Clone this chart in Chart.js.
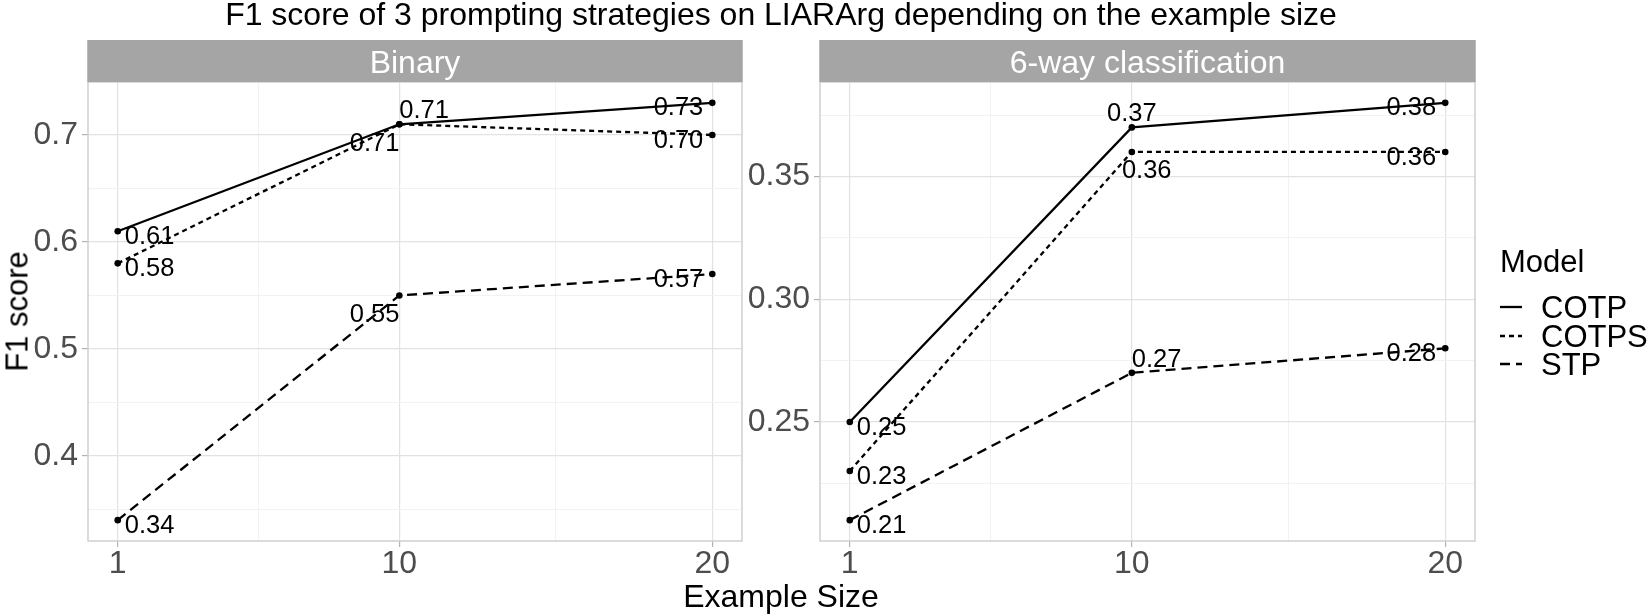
<!DOCTYPE html>
<html><head><meta charset="utf-8">
<script src="https://cdn.jsdelivr.net/npm/chart.js@4.4.1/dist/chart.umd.min.js"></script>
<style>
html,body{margin:0;padding:0;background:#fff;}
body{width:1650px;height:616px;position:relative;overflow:hidden;font-family:"Liberation Sans",Arial,sans-serif;}
canvas{position:absolute;top:0;}
.t{position:absolute;line-height:1;white-space:nowrap;color:#000;font-family:"Liberation Sans",Arial,sans-serif;}
.leg{position:absolute;}
</style></head><body>
<canvas id="c1" style="left:0;width:760px;height:616px"></canvas>
<canvas id="c2" style="left:740px;width:910px;height:616px"></canvas>
<div class="t" style="font-size:32px;top:-2px;left:0;width:1562px;text-align:center">F1 score of 3 prompting strategies on LIARArg depending on the example size</div>
<div class="t" style="font-size:32px;top:580px;left:0;width:1562px;text-align:center">Example Size</div>
<div class="t" style="font-size:31px;left:-83px;top:295.5px;width:200px;height:31px;text-align:center;transform:rotate(-90deg)">F1 score</div>
<div id="legend"></div>
<script>
// ---- data ----
const exampleSizes = [1, 10, 20];
const models = ["COTP", "COTPS", "STP"];
const binaryCOTP  = [0.61, 0.71, 0.73];
const binaryCOTPS = [0.58, 0.71, 0.70];
const binarySTP   = [0.34, 0.55, 0.57];
const sixWayCOTP  = [0.25, 0.37, 0.38];
const sixWayCOTPS = [0.23, 0.36, 0.36];
const sixWaySTP   = [0.21, 0.27, 0.28];
const xTickLabels = ["1", "10", "20"];
const binaryYTicks = [0.4, 0.5, 0.6, 0.7];
const binaryYTickLabels = ["0.4", "0.5", "0.6", "0.7"];
const sixWayYTicks = [0.25, 0.30, 0.35];
const sixWayYTickLabels = ["0.25", "0.30", "0.35"];
const facetTitles = ["Binary", "6-way classification"];
const legendTitle = "Model";

// ---- styles ----
const FONT = '"Liberation Sans", Arial, sans-serif';
const dashes = {COTP: [], COTPS: [5, 4], STP: [10, 6]};
// label justification [hjust, vjust] per series / point (ggplot semantics)
const binaryJust = [[[0,.5],[0,0],[1,.5]], [[0,.5],[1,1],[1,.5]], [[0,.5],[1,1],[1,.5]]];
const sixWayJust = [[[0,.5],[.5,0],[1,.5]], [[0,.5],[.2,1],[1,.5]], [[0,.5],[0,0],[1,.5]]];

function near(a, b) { return Math.abs(a - b) < 1e-9; }
function minorsOf(major, min, max) {
  const out = [];
  for (let i = 0; i < major.length - 1; i++) out.push((major[i] + major[i + 1]) / 2);
  const d0 = (major[1] - major[0]) / 2, d1 = (major[major.length - 1] - major[major.length - 2]) / 2;
  if (major[0] - d0 >= min) out.push(major[0] - d0);
  if (major[major.length - 1] + d1 <= max) out.push(major[major.length - 1] + d1);
  return out;
}

function makePanel(canvasId, cssWidth, series, yMajor, yLabels, yAxisWidth, padRight, stripText, just) {
  const canvas = document.getElementById(canvasId);
  canvas.width = cssWidth; canvas.height = 616;
  const all = series.flat();
  const lo = Math.min(...all), hi = Math.max(...all), ex = (hi - lo) * 0.05;
  const ymin = lo - ex, ymax = hi + ex;
  const xlo = Math.min(...exampleSizes), xhi = Math.max(...exampleSizes), xex = (xhi - xlo) * 0.05;
  const xmin = xlo - xex, xmax = xhi + xex;
  const xMinor = minorsOf(exampleSizes, xmin, xmax);
  const yMinor = minorsOf(yMajor, ymin, ymax);
  const isXMaj = v => exampleSizes.some(m => near(m, v));
  const isYMaj = v => yMajor.some(m => near(m, v));

  const facetPlugin = {
    id: 'facet',
    afterDatasetsDraw(chart) {
      const ctx = chart.ctx;
      ctx.save();
      const fs = 25.5, cap = 0.716 * fs;
      ctx.font = fs + 'px ' + FONT;
      ctx.fillStyle = '#000';
      ctx.textBaseline = 'alphabetic';
      ctx.textAlign = 'left';
      series.forEach((vals, d) => {
        const meta = chart.getDatasetMeta(d);
        vals.forEach((v, i) => {
          const pt = meta.data[i];
          const px = pt.x, py = pt.y;
          const [hj, vj] = just[d][i];
          const txt = v.toFixed(2);
          const w = ctx.measureText(txt).width;
          const pad = vj === 0.5 ? (hj === 0 ? 7 : -9) : 0;
          const tx = px - hj * w + pad;
          let by;
          if (vj === 0.5) by = py + 3.5 + cap / 2;
          else if (vj === 0) by = py - 6;
          else by = py + 8 + cap;
          ctx.fillText(txt, tx, by);
        });
      });
      ctx.restore();
    },
    afterDraw(chart) {
      const ctx = chart.ctx, a = chart.chartArea;
      ctx.save();
      ctx.strokeStyle = '#cfcfcf';
      ctx.lineWidth = 1.5;
      ctx.strokeRect(a.left, a.top, a.right - a.left, a.bottom - a.top);
      ctx.fillStyle = '#a5a5a5';
      ctx.fillRect(a.left - 0.75, 40, a.right - a.left + 1.5, a.top - 40);
      ctx.fillStyle = '#ffffff';
      ctx.font = '32px ' + FONT;
      ctx.textAlign = 'center';
      ctx.textBaseline = 'alphabetic';
      ctx.fillText(stripText, (a.left + a.right) / 2, 72.5);
      ctx.restore();
    }
  };

  return new Chart(canvas, {
    type: 'line',
    data: {
      datasets: series.map((vals, d) => ({
        label: models[d],
        data: exampleSizes.map((x, i) => ({x: x, y: vals[i]})),
        borderColor: '#000',
        backgroundColor: '#000',
        borderWidth: 2.3,
        borderDash: dashes[models[d]],
        pointRadius: 3.3,
        pointBorderWidth: 0,
        pointBackgroundColor: '#000',
        tension: 0,
        fill: false
      }))
    },
    options: {
      responsive: false,
      animation: false,
      devicePixelRatio: 1,
      layout: {padding: {left: 0, top: 82, right: padRight, bottom: 35}},
      plugins: {legend: {display: false}, tooltip: {enabled: false}, title: {display: false}},
      scales: {
        x: {
          type: 'linear', min: xmin, max: xmax,
          afterBuildTicks: ax => { ax.ticks = [...exampleSizes, ...xMinor].sort((a, b) => a - b).map(v => ({value: v})); },
          afterFit: s => { s.height = 40; },
          border: {display: false},
          grid: {
            color: c => (c.tick && isXMaj(c.tick.value)) ? '#e2e2e2' : '#f0f0f0',
            lineWidth: c => (c.tick && isXMaj(c.tick.value)) ? 1.2 : 0.9,
            tickColor: c => (c.tick && isXMaj(c.tick.value)) ? '#b3b3b3' : 'rgba(0,0,0,0)',
            tickLength: 6
          },
          ticks: {
            autoSkip: false, maxRotation: 0, padding: 1,
            color: '#4d4d4d', font: {family: FONT, size: 32, lineHeight: 1},
            callback: v => { const k = exampleSizes.findIndex(m => near(m, v)); return k >= 0 ? xTickLabels[k] : ''; }
          }
        },
        y: {
          type: 'linear', min: ymin, max: ymax,
          afterBuildTicks: ax => { ax.ticks = [...yMajor, ...yMinor].sort((a, b) => a - b).map(v => ({value: v})); },
          afterFit: s => { s.width = yAxisWidth; },
          border: {display: false},
          grid: {
            color: c => (c.tick && isYMaj(c.tick.value)) ? '#e2e2e2' : '#f0f0f0',
            lineWidth: c => (c.tick && isYMaj(c.tick.value)) ? 1.2 : 0.9,
            tickColor: c => (c.tick && isYMaj(c.tick.value)) ? '#b3b3b3' : 'rgba(0,0,0,0)',
            tickLength: 6
          },
          ticks: {
            autoSkip: false, padding: 4,
            color: '#4d4d4d', font: {family: FONT, size: 32, lineHeight: 1},
            callback: v => { const k = yMajor.findIndex(m => near(m, v)); return k >= 0 ? yLabels[k] : ''; }
          }
        }
      }
    },
    plugins: [facetPlugin]
  });
}

makePanel('c1', 760, [binaryCOTP, binaryCOTPS, binarySTP], binaryYTicks, binaryYTickLabels, 88, 18, facetTitles[0], binaryJust);
makePanel('c2', 910, [sixWayCOTP, sixWayCOTPS, sixWaySTP], sixWayYTicks, sixWayYTickLabels, 80, 175, facetTitles[1], sixWayJust);

// ---- legend (HTML text + SVG keys) ----
(function () {
  const L = document.getElementById('legend');
  const fs = 31;
  let html = '<div class="t" style="font-size:' + fs + 'px;left:1500px;top:' + (272 - 0.8465 * fs) + 'px">' + legendTitle + '</div>';
  const centers = [307, 336, 364];
  models.forEach((m, i) => {
    const cy = centers[i];
    const dash = dashes[m].length ? 'stroke-dasharray="' + dashes[m].join(' ') + '"' : '';
    html += '<svg class="leg" style="left:1500px;top:' + (cy - 5) + 'px" width="22" height="10"><line x1="0" y1="5" x2="22" y2="5" stroke="#000" stroke-width="2.3" ' + dash + '/></svg>';
    html += '<div class="t" style="font-size:' + fs + 'px;left:1541px;top:' + (cy + 0.358 * fs - 0.8465 * fs) + 'px">' + m + '</div>';
  });
  L.innerHTML = html;
})();
</script>
</body></html>
